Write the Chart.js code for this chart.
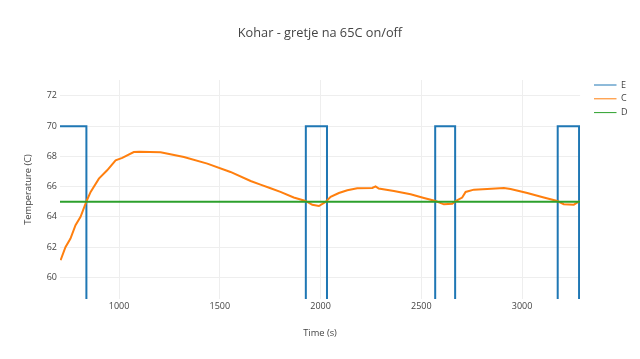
<!DOCTYPE html>
<html>
<head>
<meta charset="utf-8">
<script src="https://cdn.jsdelivr.net/npm/chart.js@4.4.0/dist/chart.umd.min.js"></script>
<style>
  body { margin: 0; background: #fff; }
</style>
</head>
<body>
<canvas id="myChart" width="640" height="359"></canvas>
<script>
// heater state (E): 70 = on, 0 = off
var eTime = [707, 838, 838, 1927, 1927, 2032, 2032, 2569, 2569, 2668, 2668, 3177, 3177, 3283, 3283];
var eValue = [70, 70, 0, 0, 70, 70, 0, 0, 70, 70, 0, 0, 70, 70, 0];

// measured temperature (C)
var cTime = [710, 734, 759, 784, 809, 839, 859, 900, 941, 983, 1016, 1073, 1100, 1206, 1322, 1438, 1553, 1653,
  1702, 1752, 1801, 1867, 1926, 1959, 1992, 2025, 2050, 2091, 2133, 2182, 2257, 2273, 2289, 2364, 2447, 2513,
  2571, 2612, 2654, 2670, 2703, 2720, 2761, 2827, 2910, 2943, 3026, 3108, 3175, 3207, 3257, 3287];
var cTemp = [61.14, 62.0, 62.57, 63.45, 64.0, 65.05, 65.65, 66.53, 67.08, 67.74, 67.9, 68.29, 68.3, 68.27, 67.96, 67.52, 66.97, 66.37,
  66.13, 65.89, 65.65, 65.28, 65.05, 64.8, 64.72, 64.99, 65.32, 65.58, 65.76, 65.89, 65.91, 66.02, 65.87, 65.71, 65.49, 65.25,
  65.05, 64.83, 64.86, 65.05, 65.28, 65.65, 65.8, 65.84, 65.91, 65.84, 65.58, 65.28, 65.05, 64.84, 64.81, 65.05];

// setpoint (D)
var dTime = [707, 3288];
var dValue = [65, 65];

var xTicks = [1000, 1500, 2000, 2500, 3000];
var yTicks = [60, 62, 64, 66, 68, 70, 72];

function toPoints(xs, ys) {
  return xs.map(function (x, i) { return { x: x, y: ys[i] }; });
}

Chart.defaults.font.family = '"Open Sans", verdana, arial, sans-serif';
Chart.defaults.color = '#444';

var legendPad = 4.8;

// move the legend next to the plot top, like plotly places it,
// and keep the title centred on the whole canvas
var legendShift = {
  id: 'legendShift',
  afterLayout: function (chart) {
    var lg = chart.legend;
    var dx = 594 - legendPad - lg.left;
    var dy = 75.7 - lg.top;
    lg.left += dx; lg.right += dx;
    lg.top += dy; lg.bottom += dy;
    chart.titleBlock.left = 0;
    chart.titleBlock.right = chart.width;
    chart.titleBlock.width = chart.width;
  }
};

var ctx = document.getElementById('myChart').getContext('2d');
var myChart = new Chart(ctx, {
  type: 'line',
  data: {
    datasets: [
      { label: 'E', data: toPoints(eTime, eValue), borderColor: '#1f77b4', backgroundColor: '#1f77b4', order: 2 },
      { label: 'C', data: toPoints(cTime, cTemp), borderColor: '#ff7f0e', backgroundColor: '#ff7f0e', order: 1 },
      { label: 'D', data: toPoints(dTime, dValue), borderColor: '#2ca02c', backgroundColor: '#2ca02c', order: 0 }
    ]
  },
  plugins: [legendShift],
  options: {
    responsive: false,
    animation: false,
    layout: { padding: { right: 11.6 } },
    elements: {
      point: { radius: 0 },
      line: { borderWidth: 2, tension: 0, fill: false }
    },
    scales: {
      x: {
        type: 'linear',
        min: 707,
        max: 3288,
        afterBuildTicks: function (s) { s.ticks = xTicks.map(function (v) { return { value: v }; }); },
        afterFit: function (s) { s.height = 60; },
        grid: { color: '#eee', drawTicks: false },
        border: { display: false },
        ticks: { padding: 1.6, font: { size: 9 }, maxRotation: 0, callback: function (v) { return String(v); } },
        title: { display: true, text: 'Time (s)', font: { size: 9.3 }, padding: { top: 0, bottom: 20.5 } }
      },
      y: {
        min: 58.57,
        max: 73.05,
        afterBuildTicks: function (s) { s.ticks = yTicks.map(function (v) { return { value: v }; }); },
        afterFit: function (s) { s.width = 60; },
        grid: { color: '#eee', drawTicks: false },
        border: { display: false },
        ticks: { padding: 3, font: { size: 9 }, callback: function (v) { return String(v); } },
        title: { display: true, text: 'Temperature (C)', font: { size: 9.3 }, padding: { top: 22.7, bottom: 0 } }
      }
    },
    plugins: {
      title: {
        display: true,
        text: 'Kohar - gretje na 65C on/off',
        font: { size: 12.75, weight: 'normal' },
        padding: { top: 25.3, bottom: 39.4 }
      },
      legend: {
        position: 'right',
        align: 'start',
        fullSize: false,
        labels: {
          usePointStyle: true,
          pointStyle: 'line',
          pointStyleWidth: 22.5,
          boxWidth: 22.5,
          padding: legendPad,
          font: { size: 9 },
          sort: function (a, b) { return a.datasetIndex - b.datasetIndex; }
        }
      },
      tooltip: { enabled: false }
    }
  }
});
</script>
</body>
</html>
